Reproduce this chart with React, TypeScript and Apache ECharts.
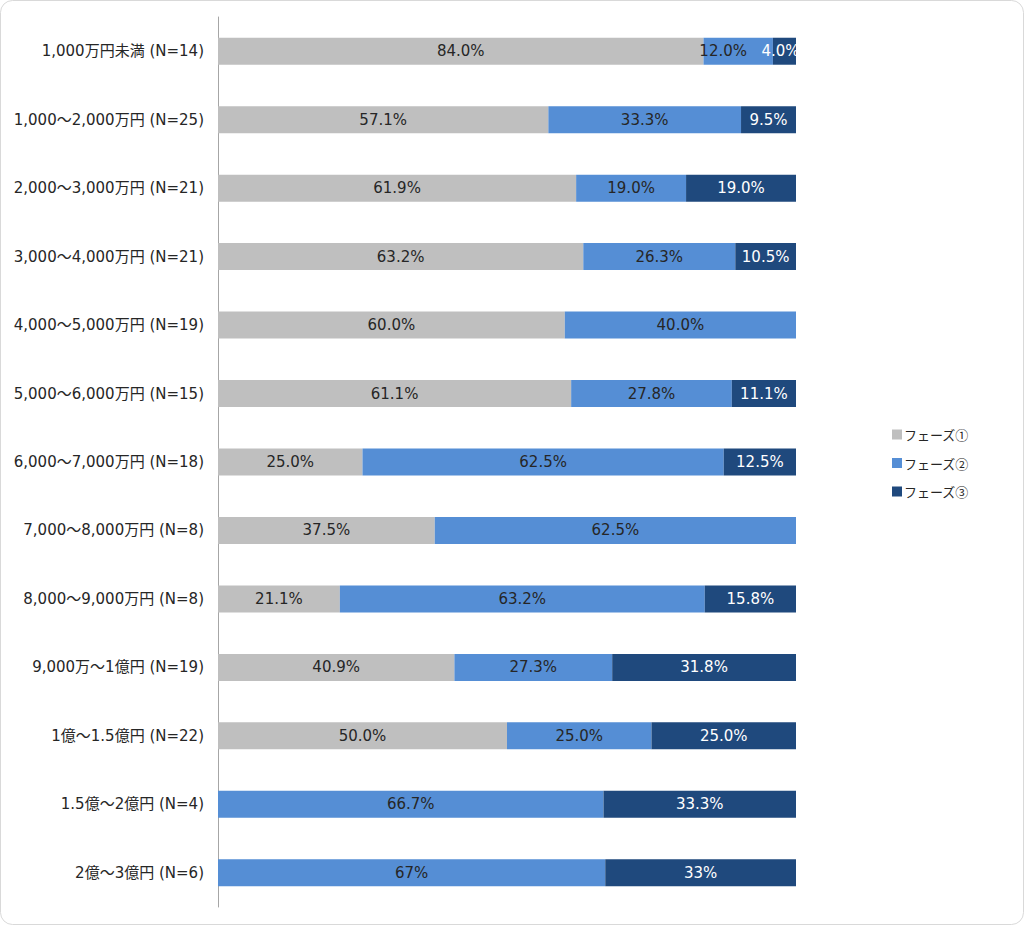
import React, { useEffect, useRef } from "react";
import * as echarts from "echarts";

const categories = [
  "1,000万円未満 (N=14)",
  "1,000～2,000万円 (N=25)",
  "2,000～3,000万円 (N=21)",
  "3,000～4,000万円 (N=21)",
  "4,000～5,000万円 (N=19)",
  "5,000～6,000万円 (N=15)",
  "6,000～7,000万円 (N=18)",
  "7,000～8,000万円 (N=8)",
  "8,000～9,000万円 (N=8)",
  "9,000万～1億円 (N=19)",
  "1億～1.5億円 (N=22)",
  "1.5億～2億円 (N=4)",
  "2億～3億円 (N=6)",
];

const seriesNames = ["フェーズ①", "フェーズ②", "フェーズ③"];

const phase1 = [84.0, 57.1, 61.9, 63.2, 60.0, 61.1, 25.0, 37.5, 21.1, 40.9, 50.0, 0, 0];
const phase2 = [12.0, 33.3, 19.0, 26.3, 40.0, 27.8, 62.5, 62.5, 63.2, 27.3, 25.0, 66.7, 67];
const phase3 = [4.0, 9.5, 19.0, 10.5, 0, 11.1, 12.5, 0, 15.8, 31.8, 25.0, 33.3, 33];

// label text as displayed (last row shows integer percentages)
const decimals = [1, 1, 1, 1, 1, 1, 1, 1, 1, 1, 1, 1, 0];

const colors = ["#bfbfbf", "#558ed5", "#1f497d"];
const labelColors = ["#262626", "#262626", "#ffffff"];

const FONT = "'DejaVu Sans', 'Noto Sans CJK JP', sans-serif";
const CJK = "'Noto Sans CJK JP', sans-serif";

export default function App() {
  const ref = useRef<HTMLDivElement>(null);

  useEffect(() => {
    if (!ref.current) return;
    const chart = echarts.init(ref.current, null, { renderer: "svg" });
    const raw = [phase1, phase2, phase3];
    const totals = categories.map((_, i) => phase1[i] + phase2[i] + phase3[i]);

    const series = raw.map((arr, s) => ({
      name: seriesNames[s],
      type: "bar",
      stack: "total",
      barWidth: 27,
      itemStyle: { color: colors[s] },
      data: arr.map((v, i) => {
        const item: any = {
          value: v === 0 ? null : (v / totals[i]) * 100,
          raw: v,
        };
        if (i === 0 && s === 1) item.label = { offset: [-15, 0] };
        if (i === 0 && s === 2) item.label = { offset: [-4, 0] };
        return item;
      }),
      label: {
        show: true,
        position: "inside",
        color: labelColors[s],
        fontFamily: FONT,
        fontSize: 15,
        formatter: (p: any) => {
          const v = p.data.raw;
          if (!v) return "";
          return v.toFixed(decimals[p.dataIndex]) + "%";
        },
      },
    }));

    chart.setOption({
      animation: false,
      textStyle: { fontFamily: FONT },
      graphic: [
        {
          type: "rect",
          shape: { x: 0.5, y: 0.5, width: 1023, height: 924, r: 12 },
          style: { fill: "none", stroke: "#d9d9d9", lineWidth: 1 },
          silent: true,
          z: -10,
        },
      ],
      legend: {
        orient: "vertical",
        left: 887,
        top: 423,
        itemWidth: 10,
        itemHeight: 10,
        itemGap: 15.5,
        icon: "rect",
        data: seriesNames,
        textStyle: { fontFamily: CJK, fontSize: 13, color: "#262626", padding: [0, 0, 0, -3] },
      },
      grid: { left: 218, top: 17, width: 578, height: 890, containLabel: false },
      xAxis: {
        type: "value",
        min: 0,
        max: 100,
        show: false,
      },
      yAxis: {
        type: "category",
        inverse: true,
        data: categories,
        axisLine: { show: true, lineStyle: { color: "#a6a6a6", width: 1 } },
        axisTick: { show: false },
        axisLabel: { fontFamily: FONT, fontSize: 15, color: "#262626", margin: 14 },
      },
      series,
    });
    return () => chart.dispose();
  }, []);

  return (
    <div
      ref={ref}
      style={{ position: "absolute", left: 0, top: 0, width: 1024, height: 925 }}
    />
  );
}
